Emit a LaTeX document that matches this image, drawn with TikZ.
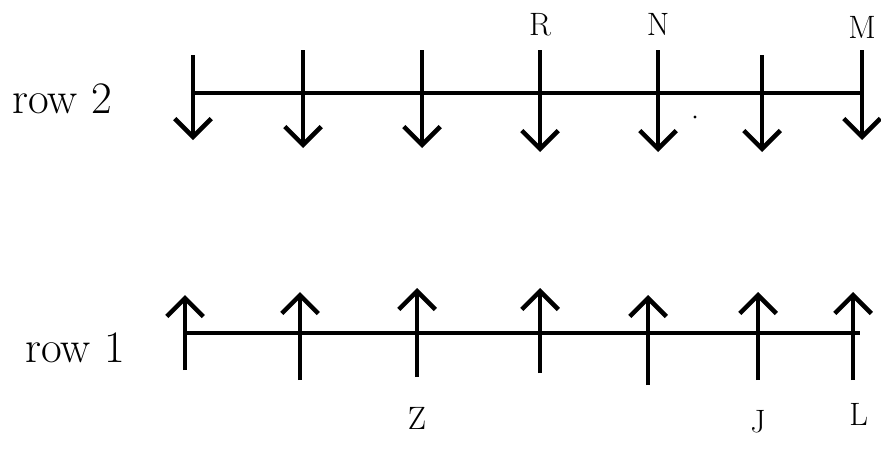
\documentclass[tikz,border=0pt]{standalone}
\usepackage{tikz}
\usetikzlibrary{arrows.meta, positioning}

\begin{document}
\begin{tikzpicture}[
  x=0.025cm, y=-0.025cm,
  rod/.style={line width=2.8pt, line cap=butt},
  down/.style={line width=3.2pt, -{Straight Barb[length=13pt, width=26pt, line width=3.2pt]}},
  up/.style={line width=3.2pt, -{Straight Barb[length=13pt, width=26pt, line width=3.2pt]}},
  rowlabel/.style={inner sep=0pt, anchor=base west, font=\fontsize{32}{38}\selectfont},
  letter/.style={inner sep=0pt, font=\fontsize{23}{28}\selectfont}
]
\useasboundingbox (0,0) rectangle (881,448);

% row 2: arrows pointing down
\coordinate (twoL) at (193,93);
\coordinate (twoR) at (862,93);
\draw[rod] (twoL) -- (twoR);
\foreach \i/\x/\t/\b in {1/193/55/140, 2/303/50/148, 3/422/50/148, 4/540/50/152,
                         5/658/50/152, 6/762/55/152, 7/862/50/140} {
  \coordinate (dtop\i) at (\x,\t);
  \coordinate (dtip\i) at (\x,\b);
  \draw[down] (dtop\i) -- (dtip\i);
}
\node[rowlabel] (rowtwo) at (12,113) {row 2};
\node[letter, above=0.35cm of dtop4] (R) {R};
\node[letter, above=0.35cm of dtop5] (N) {N};
\node[letter, above=0.28cm of dtop7] (M) {M};
\fill (695,117) circle[radius=1.2pt];

% row 1: arrows pointing up
\coordinate (oneL) at (185,333);
\coordinate (oneR) at (860,333);
\draw[rod] (oneL) -- (oneR);
\foreach \i/\x/\t/\b in {1/185/295/370, 2/300/292/380, 3/417/288/377, 4/540/288/373,
                         5/648/295/385, 6/758/292/380, 7/853/292/380} {
  \coordinate (utip\i) at (\x,\t);
  \coordinate (ubot\i) at (\x,\b);
  \draw[up] (ubot\i) -- (utip\i);
}
\node[rowlabel] (rowone) at (25,362) {row 1};
\node[letter, below=0.75cm of ubot3] (Z) {Z};
\node[letter, below=0.75cm of ubot6] (J) {J};
\node[letter, below=0.58cm of ubot7, xshift=4pt] (L) {L};
\end{tikzpicture}
\end{document}
